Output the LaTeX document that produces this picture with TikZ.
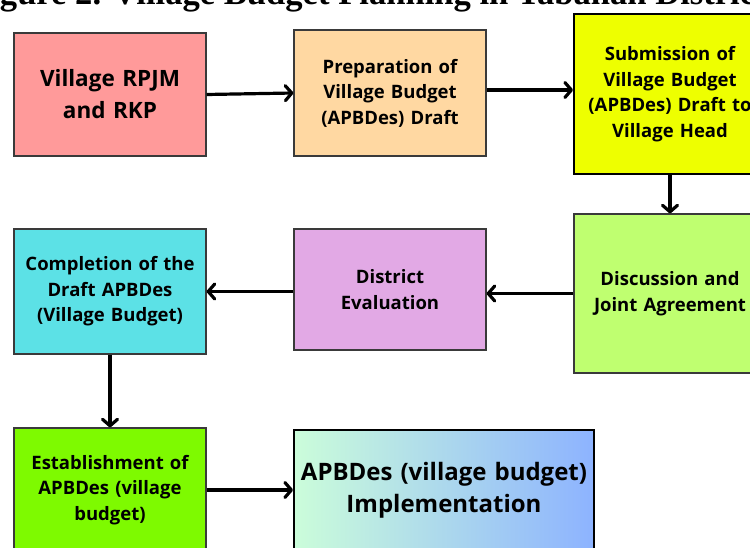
\documentclass[tikz,border=0pt]{standalone}
\usepackage{fontspec}
\setmainfont{Open Sans}
\newfontfamily\titleserif{Liberation Serif}
\usetikzlibrary{arrows.meta}

\definecolor{cRpjm}{HTML}{FF9A9A}
\definecolor{cPrep}{HTML}{FFD8A2}
\definecolor{cSubm}{HTML}{EEFF00}
\definecolor{cDisc}{HTML}{BFFF70}
\definecolor{cEval}{HTML}{E2A9E5}
\definecolor{cComp}{HTML}{5CE1E6}
\definecolor{cEstb}{HTML}{7EFA00}
\definecolor{cImplL}{HTML}{CBFDDA}
\definecolor{cImplR}{HTML}{8DB3FF}
\definecolor{edge}{HTML}{3A3A3A}

\tikzset{
  stage/.style={draw=edge, line width=1.2pt, inner sep=0pt, align=center,
    minimum width=192pt, text width=188pt,
    font=\bfseries\fontsize{18.5}{25.5}\selectfont},
  bigstage/.style={stage, font=\bfseries\fontsize{24}{32}\selectfont},
  strong/.style={draw=black, line width=2pt},
  flow/.style={draw=black, line width=3.2pt,
    -{Straight Barb[length=6.5pt,width=15pt,line cap=round,line join=round]}}
}

\begin{document}
\begin{tikzpicture}[x=1pt,y=-1pt]
\useasboundingbox (0,0) rectangle (750,548);
\clip (0,0) rectangle (750,548);

% heading of the figure, running off the top edge
\node[anchor=base west, inner sep=0pt,
      font=\titleserif\bfseries\fontsize{34.6}{38}\selectfont]
  (title) at (-31,5) {Figure 2. Village Budget Planning in Tabanan District};

% first row
\node[stage, fill=cRpjm, minimum height=123pt,
      font=\bfseries\fontsize{22.5}{32}\selectfont]
  (rpjm) at (110,94.5) {Village RPJM\\and RKP};
\node[stage, fill=cPrep, minimum height=126pt]
  (prep) at (390,93) {Preparation of\\Village Budget\\(APBDes) Draft};
\node[stage, strong, fill=cSubm, minimum height=160pt]
  (subm) at (670,94) {Submission of\\Village Budget\\(APBDes) Draft to\\Village Head};

% second row
\node[stage, fill=cDisc, minimum height=159pt]
  (disc) at (670,293.5) {Discussion and\\Joint Agreement};
\node[stage, fill=cEval, minimum height=121pt]
  (eval) at (390,289.5) {District\\Evaluation};
\node[stage, fill=cComp, minimum height=125pt]
  (comp) at (110,291.5) {Completion of the\\Draft APBDes\\(Village Budget)};

% third row
\node[stage, fill=cEstb, minimum height=124pt]
  (estb) at (110,490) {Establishment of\\APBDes (village\\budget)};
\node[bigstage, strong, left color=cImplL, right color=cImplR,
      minimum width=300pt, text width=296pt, minimum height=120pt]
  (impl) at (444,490) {APBDes (village budget)\\Implementation};

% connectors
\draw[flow] (rpjm.east) -- (prep.west);
\draw[flow] ([yshift=3pt]prep.east) -- ([yshift=4pt]subm.west);
\draw[flow] (subm.south) -- (disc.north);
\draw[flow] (disc.west) -- (eval.east |- disc.west);
\draw[flow] ([yshift=-2pt]eval.west) -- (comp.east);
\draw[flow] (comp.south) -- (estb.north);
\draw[flow] (estb.east) -- (impl.west |- estb.east);
\end{tikzpicture}
\end{document}
